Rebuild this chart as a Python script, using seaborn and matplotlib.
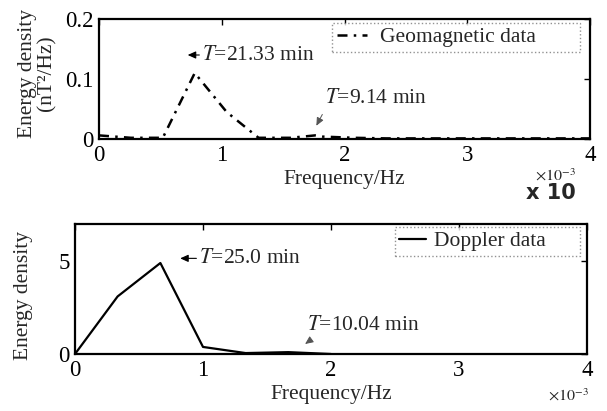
import matplotlib
matplotlib.use("Agg")
import matplotlib.pyplot as plt
import seaborn as sns
import pandas as pd

# ---- data (frequency in units of 1e-3 Hz) ----
geo_freq = [0.0, 0.26, 0.52, 0.78, 1.04, 1.30, 1.56, 1.76, 1.82, 2.08, 2.34, 2.60, 2.86, 3.12, 3.38, 3.64, 3.90, 4.0]
geo_energy = [0.006, 0.002, 0.002, 0.11, 0.045, 0.002, 0.002, 0.006, 0.004, 0.002, 0.001, 0.001, 0.001, 0.001, 0.001, 0.001, 0.001, 0.001]

dop_freq = [0.0, 0.333, 0.667, 1.0, 1.333, 1.667, 2.0]
dop_energy = [0.0, 3.1, 4.9, 0.38, 0.05, 0.1, 0.0]

geo_label = "Geomagnetic data"
dop_label = "Doppler data"
x_ticks = [0, 1, 2, 3, 4]
geo_yticks = [0, 0.1, 0.2]
dop_yticks = [0, 5]

sns.set_theme(style="white")
plt.rcParams["font.family"] = ["Liberation Serif", "DejaVu Serif"]
plt.rcParams["mathtext.fontset"] = "stix"
plt.rcParams["axes.linewidth"] = 1.6
plt.rcParams["axes.edgecolor"] = "black"

W, H = 607, 411
fig = plt.figure(figsize=(W / 100, H / 100), dpi=100)

def ax_rect(l, r, t, b):
    return [l / W, 1 - b / H, (r - l) / W, (b - t) / H]

ax1 = fig.add_axes(ax_rect(99, 590, 19, 139))
ax2 = fig.add_axes(ax_rect(75, 587, 224, 354))

df_geo = pd.DataFrame({"f": geo_freq, "E": geo_energy, "s": geo_label})
df_dop = pd.DataFrame({"f": dop_freq, "E": dop_energy, "s": dop_label})

sns.lineplot(data=df_geo, x="f", y="E", ax=ax1, color="black", linestyle="-.",
             linewidth=1.8, label=geo_label)
ax1.lines[0].set_dashes([4, 2.5, 1, 2.5])
sns.lineplot(data=df_dop, x="f", y="E", ax=ax2, color="black", linestyle="-",
             linewidth=1.6, label=dop_label)

fs = 15.5
tfs = 16.5
for ax, yt in ((ax1, geo_yticks), (ax2, dop_yticks)):
    ax.set_xlim(0, 4)
    ax.set_xticks(x_ticks)
    ax.set_xticklabels([str(v) for v in x_ticks])
    ax.set_yticks(yt)
    ax.set_yticklabels([("%g" % v) for v in yt])
    ax.tick_params(direction="in", length=4, width=1, top=True, right=True,
                   labelsize=tfs, pad=4, colors="black")
    ax.set_ylabel("")
    ax.set_xlabel("Frequency/Hz", fontsize=fs, labelpad=3)
    for s in ax.spines.values():
        s.set_visible(True)
        s.set_color("black")
        s.set_linewidth(1.6)

ax1.set_ylim(0, 0.2)
ax2.set_ylim(0, 7)

# legends
leg1 = ax1.legend(loc="upper left", bbox_to_anchor=(0.475, 0.70, 0.505, 0.267),
                  mode="expand", borderaxespad=0, fontsize=fs, frameon=True,
                  fancybox=False, handlelength=1.4, handletextpad=0.6,
                  borderpad=0.2)
leg1.get_frame().set_edgecolor("#777777")
leg1.get_frame().set_linestyle(":")
leg1.get_frame().set_linewidth(1.0)
leg1.legend_handles[0].set_dashes([4, 2.5, 1, 2.5])

leg2 = ax2.legend(loc="upper left", bbox_to_anchor=(0.625, 0.723, 0.361, 0.254),
                  mode="expand", borderaxespad=0, fontsize=fs, frameon=True,
                  fancybox=False, handlelength=1.25, handletextpad=0.35,
                  borderpad=0.2)
leg2.get_frame().set_edgecolor("#777777")
leg2.get_frame().set_linestyle(":")
leg2.get_frame().set_linewidth(1.0)

# annotations
arr_black = dict(arrowstyle="-|>,head_length=0.4,head_width=0.18", color="black", lw=0.8)
arr_gray = dict(arrowstyle="-|>,head_length=0.4,head_width=0.18", color="#555555", lw=0.7)

ax1.annotate("", xy=(0.70, 0.14), xytext=(0.84, 0.14), arrowprops=arr_black)
ax1.text(0.84, 0.14, r"$T$=21.33 min", fontsize=fs, ha="left", va="center")
ax1.annotate("", xy=(1.76, 0.018), xytext=(1.83, 0.045), arrowprops=arr_gray)
ax1.text(1.84, 0.068, r"$T$=9.14 min", fontsize=fs, ha="left", va="center")

ax2.annotate("", xy=(0.80, 5.15), xytext=(0.97, 5.15), arrowprops=arr_black)
ax2.text(0.97, 5.15, r"$T$=25.0 min", fontsize=fs, ha="left", va="center")
ax2.annotate("", xy=(1.78, 0.45), xytext=(1.86, 0.85), arrowprops=arr_gray)
ax2.text(1.81, 1.55, r"$T$=10.04 min", fontsize=fs, ha="left", va="center")

# y labels
fig.text(37 / W, 1 - 73 / H, "Energy density\n(nT²/Hz)", rotation=90, ha="center",
         va="center", fontsize=fs, linespacing=1.0)
fig.text(24 / W, 1 - 295 / H, "Energy density", rotation=90, ha="center",
         va="center", fontsize=fs)

# exponent labels
fig.text(555 / W, 1 - 176 / H, r"$\times10^{-3}$", ha="center", va="center", fontsize=11.5)
fig.text(568 / W, 1 - 396 / H, r"$\times10^{-3}$", ha="center", va="center", fontsize=11.5)
fig.text(551 / W, 1 - 193 / H, "x 10", ha="center", va="center", fontsize=15,
         fontweight="bold", family="DejaVu Sans")

fig.savefig("out.png", dpi=100)
